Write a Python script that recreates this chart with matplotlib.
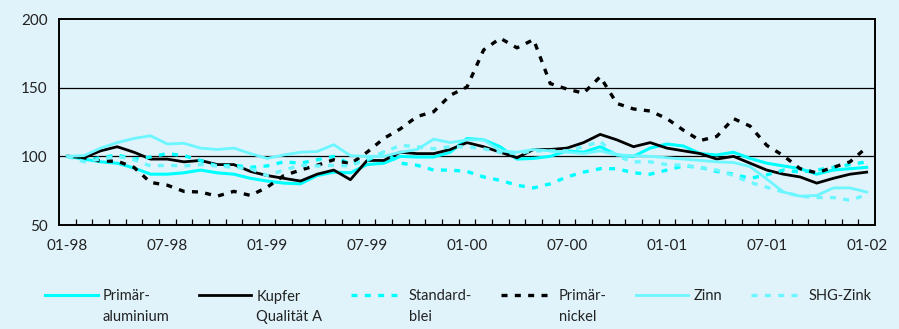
import numpy as np
import matplotlib
matplotlib.use('Agg')
import matplotlib.pyplot as plt
import matplotlib.transforms as mtransforms
from matplotlib.legend_handler import HandlerLine2D

# monthly index values, 01-98 = 100
months = list(range(49))
tick_labels = ['01-98', '07-98', '01-99', '07-99', '01-00', '07-00', '01-01', '07-01', '01-02']

aluminium = [100, 98, 96, 95, 91.5, 87, 87, 88, 90, 88, 87, 84, 82, 80.5, 80, 86, 88.5, 88,
             94, 95, 100, 99.5, 99.5, 103, 113, 112, 107, 98, 98.5, 100, 104, 103, 107, 101,
             100, 106, 109, 107.5, 102, 101, 103, 98.5, 95, 93, 91, 87, 90, 91, 92]
kupfer = [100, 99, 104, 107, 103, 98, 98, 96, 97, 94, 94, 89, 86, 84, 82, 87, 90, 83,
          97, 97, 103, 102, 102, 105, 110, 107, 103, 99, 105, 105, 106, 110, 116, 112,
          107, 110, 106, 104, 102, 98, 100, 95, 90, 87, 85, 80.5, 84, 87, 88.5]
blei = [100, 97, 99, 101, 98, 99.5, 102, 100.5, 97, 93, 93.5, 92, 93, 96, 95, 97.5, 100, 94.5,
        97, 103, 95, 93.5, 90, 90, 89, 85, 82.5, 79, 77, 80, 85, 88.5, 91, 91, 88, 87,
        90, 93, 92, 89, 87, 84, 86.5, 90, 88.5, 90, 92, 94, 96]
nickel = [100, 99, 96.5, 96.5, 92, 81, 79, 74.5, 74, 71, 74.5, 71.5, 77.5, 86, 90, 93.5, 97.5, 94.5,
          103, 113, 120, 129, 132.5, 144.5, 150.5, 177.5, 186, 179, 185, 153, 149, 146, 158, 138.5,
          134.5, 133, 127.5, 119, 111.5, 114.5, 127.5, 122, 108, 100.5, 91, 88, 92, 96, 106.5]
zinn = [100, 100.5, 106, 110, 113, 115, 109, 109.5, 106, 105, 106, 102, 98.5, 101, 103, 103.5, 108.5, 100.5,
        100, 100, 103, 105, 112.5, 110, 112, 112, 104, 103, 105, 104, 103, 102, 104, 101,
        100.5, 100, 99, 98, 97, 96, 95.5, 92.5, 83.5, 74, 71, 71.5, 77, 77, 74]
zink = [100, 96, 98, 100, 97.5, 93, 93.5, 93, 94, 93, 92, 91, 86, 90, 93.5, 93, 93.5, 93,
        98, 103, 108, 107, 105.5, 107, 107, 105.5, 103, 102, 104, 104, 104, 107, 111, 100,
        96, 96, 94, 93.5, 92, 90, 86, 81, 77.5, 74, 71, 70, 70, 68, 72]

bg = '#E0F3FB'
bright = '#00FFFF'
light = '#6CF6FF'

plt.rcParams['font.family'] = ['Lato', 'DejaVu Sans']

fig = plt.figure(figsize=(8.99, 3.29), dpi=100, facecolor=bg)
ax = fig.add_axes([0.0656, 0.3161, 0.9077, 0.6261])
ax.set_facecolor(bg)

dash = (0, (1.8, 2.2))
ax.plot(months, aluminium, color=bright, lw=2.2, label='Primär-\naluminium')
ax.plot(months, kupfer, color='black', lw=2.0, label='Kupfer\nQualität A')
ax.plot(months, blei, color=bright, lw=2.4, ls=dash, label='Standard-\nblei')
ax.plot(months, nickel, color='black', lw=2.4, ls=dash, label='Primär-\nnickel')
ax.plot(months, zinn, color=light, lw=2.0, label='Zinn\n ')
ax.plot(months, zink, color=light, lw=2.4, ls=dash, label='SHG-Zink\n ')

ax.axhline(100, color='black', lw=0.9, zorder=0.5)
ax.axhline(150, color='black', lw=0.9, zorder=0.5)

ax.set_xlim(-0.5, 48.5)
ax.set_ylim(50, 200)
ax.set_yticks([50, 100, 150, 200])
ax.set_xticks(range(0, 49, 6))
ax.set_xticklabels(tick_labels)
ax.set_xticks(np.arange(0.5, 48, 1), minor=True)
ax.tick_params(axis='y', length=0, pad=8, labelsize=11, colors='#222222')
ax.tick_params(axis='x', which='major', length=0, pad=10, labelsize=11, colors='#222222')
ax.tick_params(axis='x', which='minor', direction='in', length=4, width=0.9, color='black')
for s in ax.spines.values():
    s.set_linewidth(1.4)


class RaisedLine(HandlerLine2D):
    def create_artists(self, legend, orig_handle, xdescent, ydescent, width, height, fontsize, trans):
        arts = super().create_artists(legend, orig_handle, xdescent, ydescent, width, height, fontsize, trans)
        for a in arts:
            a.set_transform(mtransforms.Affine2D().translate(0, fontsize * 0.85) + trans)
        return arts


leg = fig.legend(loc='lower center', bbox_to_anchor=(0.51, -0.025), ncol=6, frameon=False,
                 fontsize=10.5, handlelength=3.6, handletextpad=0.35, columnspacing=2.0,
                 handler_map={matplotlib.lines.Line2D: RaisedLine()})
for t in leg.get_texts():
    t.set_linespacing(1.6)
    t.set_color('#222222')

fig.savefig('out.png', dpi=100, facecolor=bg)
